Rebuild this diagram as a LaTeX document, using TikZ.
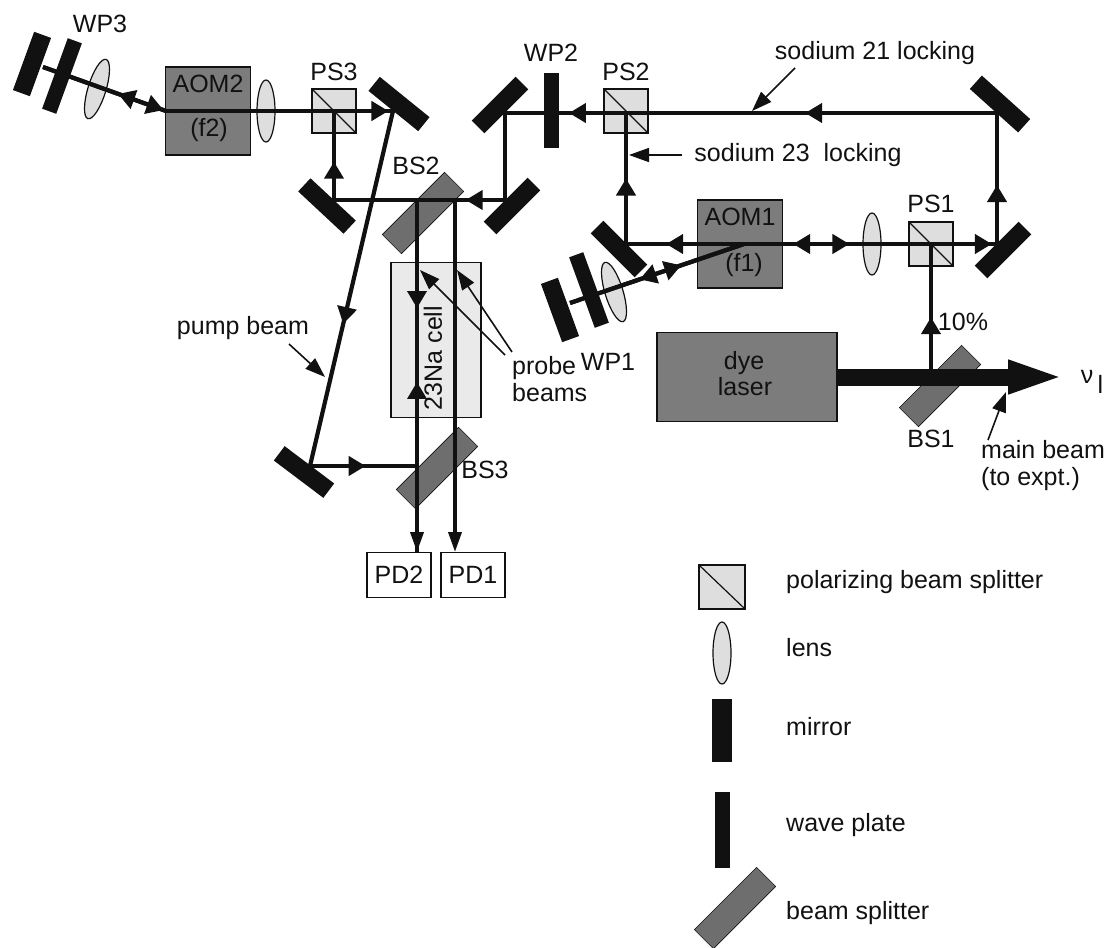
\documentclass[tikz,border=0pt]{standalone}
\usepackage{fontspec}
\setmainfont{Liberation Sans}
\usepackage{xcolor}
\usepackage{tikz}
\usetikzlibrary{arrows.meta,positioning,shapes.geometric,decorations.markings}
\definecolor{ink}{HTML}{111111}
\definecolor{aomgray}{HTML}{7C7C7C}
\definecolor{splitgray}{HTML}{6E6E6E}
\definecolor{cubegray}{HTML}{DEDEDE}
\definecolor{cellgray}{HTML}{EAEAEA}
\tikzset{
  txt/.style={font=\fontsize{25}{27}\selectfont, text=ink, inner sep=0pt, align=left},
  mirrorbar/.style={rectangle, fill=ink, inner sep=0pt, minimum width=18pt, minimum height=62pt},
  waveplate/.style={rectangle, fill=ink, inner sep=0pt, minimum width=15pt, minimum height=75pt},
  splitter/.style={rectangle, draw=ink, line width=0.6pt, fill=splitgray, inner sep=0pt, minimum width=27pt, minimum height=88pt},
  lens/.style={ellipse, draw=ink, line width=1.2pt, fill=cubegray, inner sep=0pt, minimum width=18pt, minimum height=62pt},
  cube/.style={rectangle, draw=ink, line width=1.2pt, fill=cubegray, inner sep=0pt, minimum width=44pt, minimum height=44pt,
    path picture={\draw[ink, line width=1.2pt] (path picture bounding box.north west) -- (path picture bounding box.south east);}},
  aom/.style={rectangle, draw=ink, line width=1.2pt, fill=aomgray, inner sep=0pt, minimum width=85pt, minimum height=88pt},
  pdbox/.style={rectangle, draw=ink, line width=1.2pt, fill=white, inner sep=0pt, minimum width=64pt, minimum height=45pt, txt},
  beam/.style={draw=ink, line width=4.2pt},
  thinbeam/.style={draw=ink, line width=3.6pt},
  pointer/.style={draw=ink, line width=1.6pt, -{Triangle[length=20pt, width=14pt]}},
  tipat/.style={postaction={decorate, decoration={markings, mark=at position #1 with {\arrow[ink]{Triangle[length=17pt, width=19pt]}}}}},
  tipend/.style={-{Triangle[length=20pt, width=13pt]}}
}

\begin{document}
\begin{tikzpicture}[x=1pt, y=-1pt]
  \useasboundingbox (0,0) rectangle (1106,948);

  % optics, top row
  \node[mirrorbar, rotate=-20] (wp3far) at (32,64) {};
  \node[waveplate, rotate=-20] (wp3plate) at (62,76) {};
  \node[lens, rotate=-17] (wp3lens) at (97,89) {};
  \node[aom] (aom2) at (208,111) {};
  \node[lens] (lens2) at (266,111) {};
  \node[cube] (ps3) at (334,111) {};
  \node[mirrorbar, rotate=51, minimum height=64pt] (mtop) at (399,104) {};
  \node[mirrorbar, rotate=47] (mlow) at (327,206) {};
  \node[splitter, rotate=-45] (bs2) at (423,213) {};
  \node[mirrorbar, rotate=-45] (m2up) at (500,105) {};
  \node[mirrorbar, rotate=-45] (m2low) at (512,206) {};
  \node[waveplate] (wp2) at (551,110) {};
  \node[cube] (ps2) at (626,111) {};
  \node[mirrorbar, rotate=48, minimum height=65pt] (mcorner) at (1000,104) {};
  \node[mirrorbar, rotate=-45] (mright) at (1003,250) {};

  % optics, middle
  \node[mirrorbar, rotate=45] (m1) at (619,249) {};
  \node[aom] (aom1) at (740,244) {};
  \node[lens] (lens1) at (872,244) {};
  \node[cube] (ps1) at (931,244) {};
  \node[mirrorbar, rotate=20] (wp1far) at (560,310) {};
  \node[waveplate, rotate=20] (wp1plate) at (589,290) {};
  \node[lens, rotate=17] (wp1lens) at (614,292) {};
  \node[aom, minimum width=180pt, minimum height=89pt] (dye) at (747,377) {};
  \node[splitter, rotate=-45] (bs1) at (940,386) {};

  % cell and detectors
  \node[rectangle, draw=ink, line width=1.2pt, fill=cellgray, minimum width=90pt, minimum height=155pt, inner sep=0pt] (cell) at (436,340) {};
  \node[mirrorbar, rotate=53] (mpump) at (304,472) {};
  \node[splitter, rotate=-45] (bs3) at (437,468) {};
  \node[pdbox] (pd2) at (399,575) {PD2};
  \node[pdbox] (pd1) at (473,575) {PD1};

  % beam corners
  \coordinate (wp3end) at (43,67);
  \coordinate (aom2in) at (166,111);
  \coordinate (mtophit) at (393,111);
  \coordinate (ps3hit) at (334,111);
  \coordinate (mlowhit) at (334,200);
  \coordinate (m2lowhit) at (505,200);
  \coordinate (m2uphit) at (505,113);
  \coordinate (cornerhit) at (997,113);
  \coordinate (ps2hit) at (626,113);
  \coordinate (m1hit) at (626,244);
  \coordinate (mrighthit) at (997,244);
  \coordinate (wp1end) at (570,303);
  \coordinate (aom1mid) at (744,244);
  \coordinate (ps1hit) at (931,244);
  \coordinate (bs1hit) at (931,377);
  \coordinate (pumphit) at (310,466);
  \coordinate (bs3hit) at (417,466);
  \coordinate (bs2a) at (417,200);
  \coordinate (bs2b) at (455,200);
  \coordinate (pd2top) at (417,552);
  \coordinate (pd1top) at (455,552);

  % beams
  \draw[beam, tipat=0.98] (wp3end) -- (aom2in);
  \draw[beam, tipat=0.39] (aom2in) -- (wp3end);
  \draw[beam, tipat=0.98] (aom2in) -- (mtophit);
  \draw[beam, tipat=0.6] (mtophit) -- (pumphit);
  \draw[beam, tipat=0.52] (pumphit) -- (bs3hit);
  \draw[beam, tipat=0.43] (mlowhit) -- (ps3hit);
  \draw[beam, tipat=0.23] (m2lowhit) -- (mlowhit);
  \draw[beam] (m2uphit) -- (m2lowhit);
  \draw[beam, tipat=0.39, tipat=0.87] (cornerhit) -- (m2uphit);
  \draw[beam, tipat=0.5] (m1hit) -- (ps2hit);
  \draw[beam, tipat=0.66] (aom1mid) -- (m1hit);
  \draw[beam] (aom1mid) -- (aom1.east);
  \draw[beam, tipat=0.953] (mrighthit) -- (aom1.east);
  \draw[beam, tipat=0.31, tipat=0.976] (aom1.east) -- (mrighthit);
  \draw[beam, tipat=0.45] (mrighthit) -- (cornerhit);
  \draw[beam, tipat=0.45] (bs1hit) -- (ps1hit);
  \draw[beam, tipat=0.6] (aom1mid) -- (wp1end);
  \draw[beam, tipat=0.64] (wp1end) -- (aom1mid);
  \draw[thinbeam, tipat=0.307] (bs2a) -- (pd2top);
  \draw[thinbeam, tipat=0.483] (pd2top) -- (bs2a);
  \draw[thinbeam, tipend] (bs2a) -- (pd2top);
  \draw[thinbeam, tipend] (bs2b) -- (pd1top);
  \draw[draw=ink, line width=17pt, -{Triangle[length=57pt, width=30pt]}] (dye.east) -- (1065,377);

  % text on the optics
  \node[txt] (aom2top) at (208,84) {AOM2};
  \node[txt] (aom2f) at (209,130) {(f2)};
  \node[txt] (aom1top) at (740,217) {AOM1};
  \node[txt] (aom1f) at (744,265) {(f1)};
  \node[txt] (dyetop) at (744,363) {dye};
  \node[txt] (dyelow) at (745,387) {laser};
  \node[txt, rotate=90] (celltxt) at (433,358) {23Na cell};

  % labels
  \node[txt] (wp3txt) at (100,24) {WP3};
  \node[txt, above=7pt of ps3] {PS3};
  \node[txt, above=7pt of ps2] {PS2};
  \node[txt, above=8pt of ps1] {PS1};
  \node[txt] (bs2txt) at (416,166) {BS2};
  \node[txt] (wp2txt) at (551,53) {WP2};
  \node[txt] (wp1txt) at (608,362) {WP1};
  \node[txt] (bs1txt) at (931,439) {BS1};
  \node[txt] (bs3txt) at (485,470) {BS3};
  \node[txt] (tenpct) at (963,322) {10\%};
  \node[txt] (nutxt) at (1092,382) {ν\,\raisebox{-0.7ex}{l}};

  \node[txt] (s21) at (875,53) {sodium 21 locking};
  \coordinate (s21hit) at (752,111);
  \coordinate (s21from) at (795,68);
  \draw[pointer] (s21from) -- (s21hit);
  \node[txt] (s23) at (798,155) {sodium 23\ \ locking};
  \coordinate (s23hit) at (629,155);
  \draw[pointer] (s23.west) ++(-12,0) coordinate (s23from) -- (s23hit);

  \node[txt] (pumptxt) at (243,328) {pump beam};
  \coordinate (pumpfrom) at (289,344);
  \coordinate (pumptip) at (325,377);
  \draw[pointer] (pumpfrom) -- (pumptip);

  \node[txt, anchor=north west] (probetxt) at (512,356) {probe\\beams};
  \coordinate (probe1) at (420,270);
  \coordinate (probe2) at (457,270);
  \coordinate (probefrom1) at (505,355);
  \coordinate (probefrom2) at (512,352);
  \draw[pointer] (probefrom1) -- (probe1);
  \draw[pointer] (probefrom2) -- (probe2);

  \node[txt, anchor=north west] (maintxt) at (981,440) {main beam\\(to expt.)};
  \coordinate (mainfrom) at (988,440);
  \coordinate (maintip) at (1006,392);
  \draw[pointer] (mainfrom) -- (maintip);

  % legend
  \node[cube, minimum width=46pt] (keycube) at (722,587) {};
  \node[lens] (keylens) at (722,653) {};
  \node[mirrorbar, minimum width=20pt, minimum height=63pt] (keymirror) at (722,730) {};
  \node[waveplate, minimum height=76pt] (keyplate) at (722,830) {};
  \node[splitter, rotate=-45] (keysplit) at (735,908) {};
  \node[txt, anchor=west] at (786,582) {polarizing beam splitter};
  \node[txt, anchor=west] at (786,648) {lens};
  \node[txt, anchor=west] at (786,727) {mirror};
  \node[txt, anchor=west] at (786,825) {wave plate};
  \node[txt, anchor=west] at (786,913) {beam splitter};
\end{tikzpicture}
\end{document}
